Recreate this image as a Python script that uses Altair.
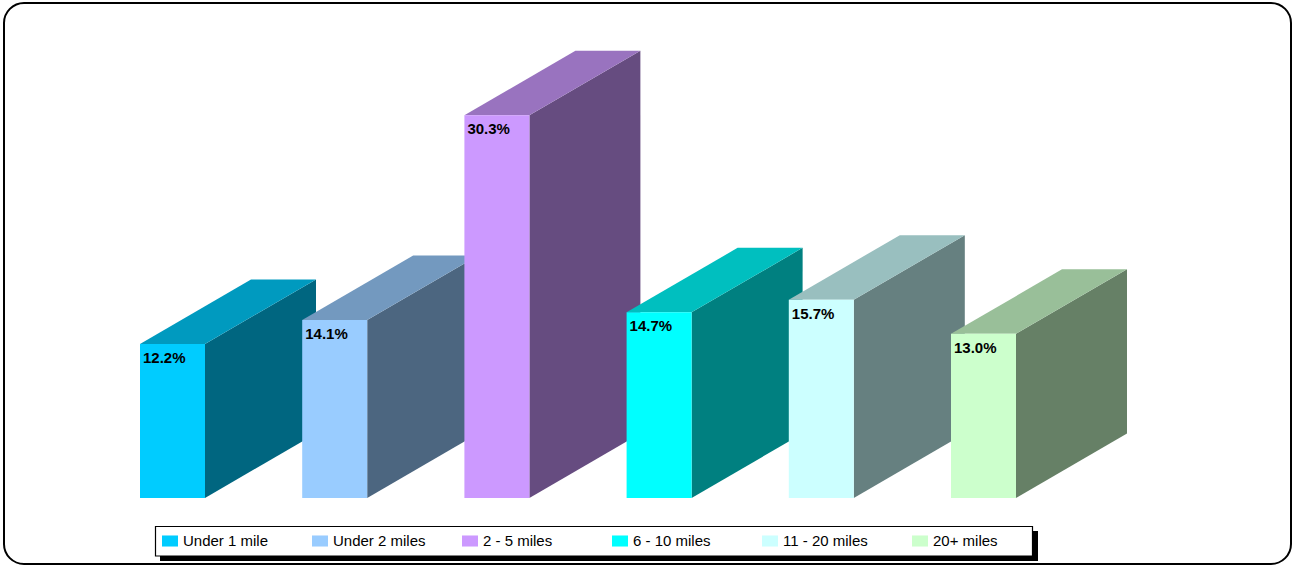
import altair as alt
import pandas as pd

# ---- data ----
categories = ["Under 1 mile", "Under 2 miles", "2 - 5 miles", "6 - 10 miles", "11 - 20 miles", "20+ miles"]
values = [12.2, 14.1, 30.3, 14.7, 15.7, 13.0]

# ---- styles ----
front_colors = ["#00CCFF", "#99CCFF", "#CC99FF", "#00FFFF", "#CCFFFF", "#CCFFCC"]
top_colors = ["#009ABF", "#7399BF", "#9973BF", "#00BFBF", "#99BFBF", "#99BF99"]
side_colors = ["#006680", "#4C6680", "#664C80", "#008080", "#668080", "#668066"]
FONT = "Liberation Sans"

# ---- geometry (canvas-wide scales) ----
W, H = 1293, 566
STEP = 162.2          # px per category
X_LEFT = 140          # px of first bar's front-left edge
Y_BASE = 498          # px of baseline
PX_PER_UNIT = 12.63   # px per percent
BAR_W = 65 / STEP
DX = 111 / STEP
DY = 64.5 / PX_PER_UNIT

x_scale = alt.Scale(domain=[-X_LEFT / STEP, (W - X_LEFT) / STEP], nice=False, zero=False)
y_scale = alt.Scale(domain=[-(H - Y_BASE) / PX_PER_UNIT, Y_BASE / PX_PER_UNIT], nice=False, zero=False)

fronts = pd.DataFrame({
    "category": categories,
    "x0": [i for i in range(len(values))],
    "x1": [i + BAR_W for i in range(len(values))],
    "base": [0.0] * len(values),
    "v": values,
    "label": [f"{v:.1f}%" for v in values],
})

top_rows, side_rows = [], []
for i, (c, v) in enumerate(zip(categories, values)):
    top_rows.append({"category": c, "y": v, "xl": i, "xr": i + BAR_W})
    top_rows.append({"category": c, "y": v + DY, "xl": i + DX, "xr": i + BAR_W + DX})
    side_rows.append({"category": c, "x": i + BAR_W, "ylo": 0.0, "yhi": v})
    side_rows.append({"category": c, "x": i + BAR_W + DX, "ylo": DY, "yhi": v + DY})
tops = pd.DataFrame(top_rows)
sides = pd.DataFrame(side_rows)

one = pd.DataFrame({"a": [0]})

frame = alt.Chart(one).mark_rect(
    fill="white", stroke="black", strokeWidth=2, cornerRadius=20
).encode(x=alt.value(4), x2=alt.value(1291), y=alt.value(3), y2=alt.value(564))

shadow = alt.Chart(one).mark_rect(fill="black").encode(
    x=alt.value(160), x2=alt.value(1038), y=alt.value(531), y2=alt.value(561)
)

legend_box = alt.Chart(one).mark_rect(fill="white", stroke="black", strokeWidth=1.2).encode(
    x=alt.value(155.5), x2=alt.value(1032.5), y=alt.value(526.5), y2=alt.value(556)
)

side_layer = alt.Chart(sides).mark_area(orient="vertical", strokeWidth=0).encode(
    x=alt.X("x:Q", scale=x_scale, axis=None),
    y=alt.Y("yhi:Q", scale=y_scale, axis=None),
    y2="ylo:Q",
    color=alt.Color("category:N", scale=alt.Scale(domain=categories, range=side_colors), legend=None),
)

top_layer = alt.Chart(tops).mark_area(orient="horizontal", strokeWidth=0).encode(
    y=alt.Y("y:Q", scale=y_scale, axis=None),
    x=alt.X("xl:Q", scale=x_scale, axis=None),
    x2="xr:Q",
    color=alt.Color("category:N", scale=alt.Scale(domain=categories, range=top_colors), legend=None),
)

front_layer = alt.Chart(fronts).mark_rect(strokeWidth=0).encode(
    x=alt.X("x0:Q", scale=x_scale, axis=None),
    x2="x1:Q",
    y=alt.Y("v:Q", scale=y_scale, axis=None),
    y2="base:Q",
    color=alt.Color(
        "category:N",
        scale=alt.Scale(domain=categories, range=front_colors),
        legend=alt.Legend(
            title=None,
            orient="none",
            legendX=155,
            legendY=526,
            direction="horizontal",
            columns=6,
            gridAlign="all",
            columnPadding=36,
            padding=7,
            symbolType="M-1,-0.69L1,-0.69L1,0.69L-1,0.69Z",
            symbolSize=256,
            symbolStrokeWidth=0,
            symbolOpacity=1,
            labelFont=FONT,
            labelFontSize=15,
            labelColor="black",
            labelOffset=5,
        ),
    ),
)

labels = alt.Chart(fronts).mark_text(
    align="left", baseline="alphabetic", dx=3, dy=19,
    font=FONT, fontSize=15, fontWeight="bold", color="black"
).encode(
    x=alt.X("x0:Q", scale=x_scale, axis=None),
    y=alt.Y("v:Q", scale=y_scale, axis=None),
    text="label:N",
)

chart = alt.layer(frame, shadow, legend_box, side_layer, top_layer, front_layer, labels).resolve_scale(
    color="independent"
).properties(
    width=W, height=H, padding=0, autosize="none", background="white"
).configure_view(strokeWidth=0)

chart.save("out.html", embed_options={"renderer": "svg", "actions": False})
